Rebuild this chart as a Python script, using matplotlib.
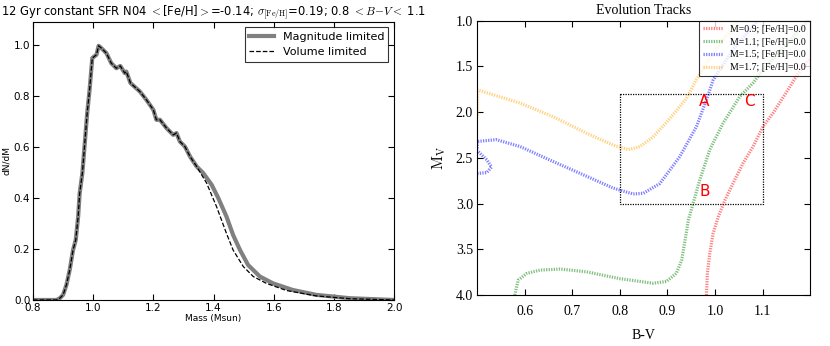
import matplotlib
matplotlib.use("Agg")
import matplotlib.pyplot as plt
from matplotlib.patches import Rectangle

plt.rcParams['mathtext.fontset'] = 'cm'

# ---------------- Left panel data ----------------
mass_mag = [0.80, 0.878, 0.889, 0.90, 0.911, 0.922, 0.933, 0.942, 0.95, 0.955, 0.964, 0.972,
            0.98, 0.988, 0.997, 1.011, 1.018, 1.027, 1.044, 1.06, 1.077, 1.09, 1.105, 1.11,
            1.124, 1.155, 1.177, 1.20, 1.21, 1.222, 1.244, 1.266, 1.277, 1.288, 1.305, 1.322,
            1.344, 1.366, 1.394, 1.416, 1.443, 1.465, 1.488, 1.515, 1.554, 1.598, 1.664,
            1.742, 1.853, 2.0]
dndm_mag = [0.0, 0.0, 0.007, 0.02, 0.059, 0.118, 0.196, 0.235, 0.327, 0.418, 0.497, 0.614,
            0.732, 0.824, 0.948, 0.961, 0.996, 0.987, 0.967, 0.928, 0.908, 0.917, 0.889, 0.895,
            0.850, 0.817, 0.784, 0.745, 0.706, 0.706, 0.673, 0.647, 0.654, 0.621, 0.601, 0.562,
            0.523, 0.497, 0.451, 0.399, 0.327, 0.255, 0.196, 0.137, 0.092, 0.065, 0.039,
            0.020, 0.007, 0.0]
mass_vol = [0.80, 0.878, 0.889, 0.90, 0.911, 0.922, 0.933, 0.942, 0.95, 0.955, 0.964, 0.972,
            0.98, 0.988, 0.997, 1.011, 1.018, 1.027, 1.044, 1.06, 1.077, 1.09, 1.105, 1.11,
            1.124, 1.155, 1.177, 1.20, 1.21, 1.222, 1.244, 1.266, 1.277, 1.288, 1.305, 1.322,
            1.344, 1.377, 1.41, 1.443, 1.465, 1.499, 1.532, 1.576, 1.643, 1.742, 1.853, 2.0]
dndm_vol = [0.0, 0.0, 0.007, 0.02, 0.059, 0.118, 0.196, 0.235, 0.327, 0.418, 0.497, 0.614,
            0.732, 0.824, 0.948, 0.961, 0.996, 0.987, 0.967, 0.928, 0.908, 0.917, 0.889, 0.895,
            0.850, 0.817, 0.784, 0.745, 0.706, 0.706, 0.673, 0.647, 0.654, 0.621, 0.601, 0.562,
            0.523, 0.458, 0.366, 0.261, 0.196, 0.131, 0.092, 0.065, 0.037, 0.016, 0.005, 0.0]

left_title = (r'12 Gyr constant SFR N04 $<$[Fe/H]$>$=-0.14; $\sigma_{\rm [Fe/H]}$=0.19; '
              r'0.8 $<B\!-\!V<$ 1.1')
left_xticks = [0.8, 1.0, 1.2, 1.4, 1.6, 1.8, 2.0]
left_yticks = [0.0, 0.2, 0.4, 0.6, 0.8, 1.0]

# ---------------- Right panel data ----------------
bv_09 = [0.982, 0.984, 0.989, 0.996, 1.007, 1.021, 1.038, 1.059, 1.08, 1.101, 1.122, 1.148,
         1.172, 1.20]
mv_09 = [4.0, 3.763, 3.544, 3.325, 3.142, 2.96, 2.777, 2.558, 2.376, 2.157, 2.01, 1.80,
         1.60, 1.41]
bv_11 = [0.579, 0.586, 0.604, 0.632, 0.674, 0.73, 0.80, 0.87, 0.898, 0.919, 0.93, 0.937,
         0.944, 0.954, 0.968, 0.989, 1.017, 1.052, 1.08, 1.10, 1.15, 1.196]
mv_11 = [4.0, 3.836, 3.763, 3.726, 3.715, 3.745, 3.82, 3.87, 3.85, 3.76, 3.617, 3.40,
         3.18, 2.996, 2.74, 2.41, 2.12, 1.83, 1.68, 1.54, 1.26, 1.0]
bv_15 = [0.50, 0.52, 0.53, 0.52, 0.50, 0.50, 0.54, 0.59, 0.66, 0.73, 0.786, 0.828, 0.849,
         0.884, 0.926, 0.961, 0.982, 0.996, 1.04, 1.09]
mv_15 = [2.67, 2.66, 2.60, 2.52, 2.42, 2.32, 2.30, 2.375, 2.54, 2.70, 2.83, 2.894, 2.887,
         2.78, 2.485, 2.157, 1.865, 1.65, 1.30, 1.0]
bv_17 = [0.49, 0.50, 0.50, 0.59, 0.66, 0.73, 0.786, 0.818, 0.842, 0.87, 0.905, 0.94, 0.96,
         1.00, 1.048]
mv_17 = [2.0, 2.05, 1.755, 1.90, 2.05, 2.23, 2.36, 2.41, 2.376, 2.27, 2.07, 1.85, 1.65,
         1.32, 1.0]
track_labels = ['M=0.9; [Fe/H]=0.0', 'M=1.1; [Fe/H]=0.0', 'M=1.5; [Fe/H]=0.0',
                'M=1.7; [Fe/H]=0.0']
track_colors = ['red', 'green', 'blue', 'orange']
box_bv = (0.8, 1.1)
box_mv = (1.8, 3.0)
letters = ['A', 'B', 'C']
letter_bv = [0.978, 0.978, 1.072]
letter_mv = [1.885, 2.87, 1.885]
right_xticks = [0.6, 0.7, 0.8, 0.9, 1.0, 1.1]
right_yticks = [1.0, 1.5, 2.0, 2.5, 3.0, 3.5, 4.0]

fig = plt.figure(figsize=(8.3, 3.46), dpi=100)

# ---------------- Left panel ----------------
ax1 = fig.add_axes([0.0398, 0.133, 0.4349, 0.804])
ax1.plot(mass_mag, dndm_mag, color='#808080', lw=3, label='Magnitude limited')
ax1.plot(mass_vol, dndm_vol, 'k--', lw=0.9, label='Volume limited')
ax1.set_xlim(0.8, 2.0)
ax1.set_ylim(0.0, 1.09)
ax1.set_xticks(left_xticks)
ax1.set_yticks(left_yticks)
ax1.tick_params(direction='in', top=True, right=True, labelsize=7.5, length=4, pad=2)
ax1.set_xlabel('Mass (Msun)', fontsize=6.5, labelpad=1)
ax1.set_ylabel('dN/dM', fontsize=6.5, labelpad=2)
ax1.set_title(left_title, fontsize=8.3, pad=4)
ax1.legend(loc='upper right', fontsize=8, frameon=True, fancybox=False,
           edgecolor='black', borderaxespad=0.5, handlelength=2.2)
ax1.get_legend().get_frame().set_linewidth(0.8)

# ---------------- Right panel ----------------
serif = ['Liberation Serif', 'DejaVu Serif']
ax2 = fig.add_axes([0.575, 0.147, 0.401, 0.793])
for bv, mv, lab, col in zip([bv_09, bv_11, bv_15, bv_17], [mv_09, mv_11, mv_15, mv_17],
                            track_labels, track_colors):
    ax2.plot(bv, mv, linestyle=(0, (0.4, 0.4)), lw=2.3, color=col, alpha=0.5, label=lab)
ax2.add_patch(Rectangle((box_bv[0], box_mv[0]), box_bv[1] - box_bv[0],
                        box_mv[1] - box_mv[0], fill=False, ls=(0, (1, 1)), lw=0.9,
                        ec='black'))
for t, x, y in zip(letters, letter_bv, letter_mv):
    ax2.text(x, y, t, color='red', fontsize=11, ha='center', va='center')
ax2.set_xlim(0.5, 1.2)
ax2.set_ylim(4.0, 1.0)
ax2.set_xticks(right_xticks)
ax2.set_yticks(right_yticks)
ax2.tick_params(direction='in', top=True, right=True, length=4, pad=7)
for lab in ax2.get_xticklabels() + ax2.get_yticklabels():
    lab.set_family(serif)
    lab.set_fontsize(10)
ax2.tick_params(axis='y', pad=3)
ax2.set_xlabel('B-V', family=serif, fontsize=10, labelpad=8)
ax2.set_ylabel(r'$\mathrm{M_V}$', fontsize=11, labelpad=6)
ax2.set_title('Evolution Tracks', family=serif, fontsize=10, pad=5)
leg = ax2.legend(loc='upper right', prop={'family': serif, 'size': 7}, frameon=True,
                 fancybox=False, edgecolor='black', borderaxespad=0.0, handlelength=2.0,
                 labelspacing=0.4)
leg.get_frame().set_linewidth(0.8)

fig.savefig('out.png', dpi=100)
